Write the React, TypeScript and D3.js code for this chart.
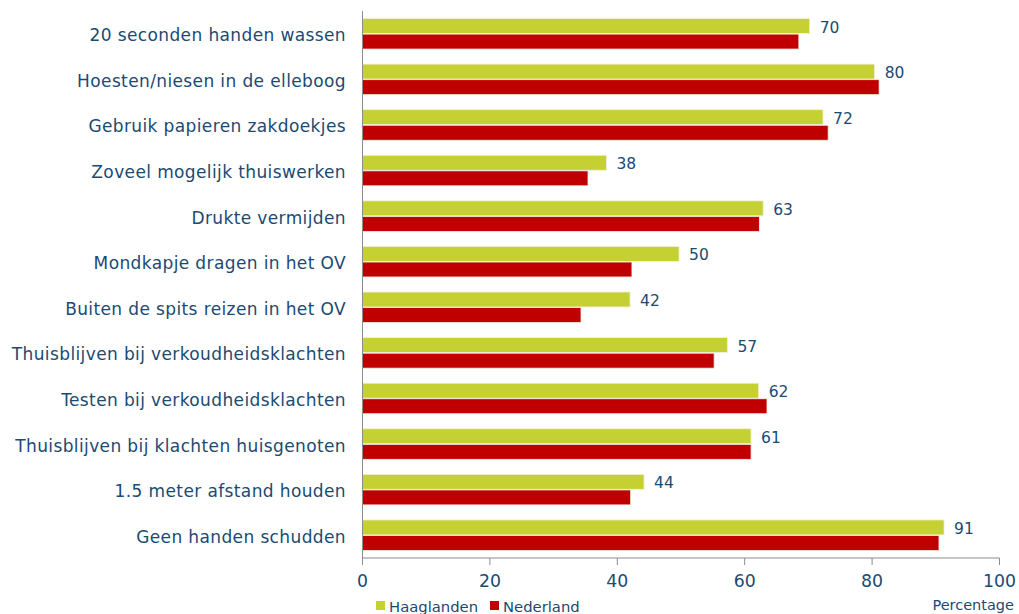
import React from "react";
import * as d3 from "d3";

const categories = [
  "20 seconden handen wassen",
  "Hoesten/niesen in de elleboog",
  "Gebruik papieren zakdoekjes",
  "Zoveel mogelijk thuiswerken",
  "Drukte vermijden",
  "Mondkapje dragen in het OV",
  "Buiten de spits reizen in het OV",
  "Thuisblijven bij verkoudheidsklachten",
  "Testen bij verkoudheidsklachten",
  "Thuisblijven bij klachten huisgenoten",
  "1.5 meter afstand houden",
  "Geen handen schudden",
];
const haaglanden = [70.2, 80.4, 72.3, 38.3, 62.9, 49.7, 42.0, 57.3, 62.2, 61.0, 44.2, 91.3];
const nederland = [68.5, 81.1, 73.1, 35.4, 62.3, 42.3, 34.3, 55.2, 63.5, 61.0, 42.1, 90.5];
const xTicks = [0, 20, 40, 60, 80, 100];
const seriesNames = ["Haaglanden", "Nederland"];
const colors = ["#C5D132", "#C00000"];

const W = 1019;
const H = 614;
const left = 362.5;
const right = 999.5;
const top = 11;
const bottom = 558;
const textColor = "#1B4A72";
const font = "'DejaVu Sans', Verdana, sans-serif";

export default function App() {
  const x = d3.scaleLinear().domain([0, 100]).range([left, right]);
  const y = d3.scaleBand<string>().domain(categories).range([top, bottom]).paddingInner(0.33).paddingOuter(0.165);
  const sub = d3.scaleBand<string>().domain(seriesNames).range([0, y.bandwidth()]).paddingInner(0.04);
  const seriesData = [haaglanden, nederland];

  return (
    <svg width={W} height={H} style={{ position: "absolute", left: 0, top: 0, background: "#fff" }} fontFamily={font}>
      {categories.map((c, i) => (
        <g key={c}>
          <text
            x={346}
            y={(y(c) as number) + y.bandwidth() / 2 + 1.5}
            textAnchor="end"
            dominantBaseline="central"
            fontSize={17}
            letterSpacing={0.38}
            fill={textColor}
          >
            {c}
          </text>
          {seriesData.map((s, j) => (
            <rect
              key={j}
              x={x(0)}
              y={(y(c) as number) + (sub(seriesNames[j]) as number)}
              width={x(s[i]) - x(0)}
              height={sub.bandwidth()}
              fill={colors[j]}
              stroke="#f2f2e0"
              strokeWidth={0.8}
            />
          ))}
          <text
            x={x(haaglanden[i]) + 10}
            y={(y(c) as number) + (sub(seriesNames[0]) as number) + sub.bandwidth() / 2 + 1.5}
            dominantBaseline="central"
            fontSize={15.5}
            fill={textColor}
          >
            {d3.format(".0f")(haaglanden[i])}
          </text>
        </g>
      ))}
      <line x1={left} x2={left} y1={top} y2={bottom} stroke="#8c8c8c" strokeWidth={1} />
      <line x1={left} x2={right} y1={bottom} y2={bottom} stroke="#8c8c8c" strokeWidth={1} />
      {xTicks.map((t) => (
        <g key={t}>
          <line x1={x(t)} x2={x(t)} y1={bottom} y2={bottom + 7} stroke="#8c8c8c" strokeWidth={1} />
          <text x={x(t)} y={581} textAnchor="middle" dominantBaseline="central" fontSize={17.3} fill={textColor}>
            {t}
          </text>
        </g>
      ))}
      <text x={1014} y={605} textAnchor="end" dominantBaseline="central" fontSize={14.5} fill={textColor}>
        Percentage
      </text>
      {seriesNames.map((n, j) => {
        const lx = j === 0 ? 376 : 490;
        return (
          <g key={n}>
            <rect x={lx} y={601} width={9} height={9} fill={colors[j]} />
            <text x={lx + 13} y={606.5} dominantBaseline="central" fontSize={14.8} fill={textColor}>
              {n}
            </text>
          </g>
        );
      })}
    </svg>
  );
}
